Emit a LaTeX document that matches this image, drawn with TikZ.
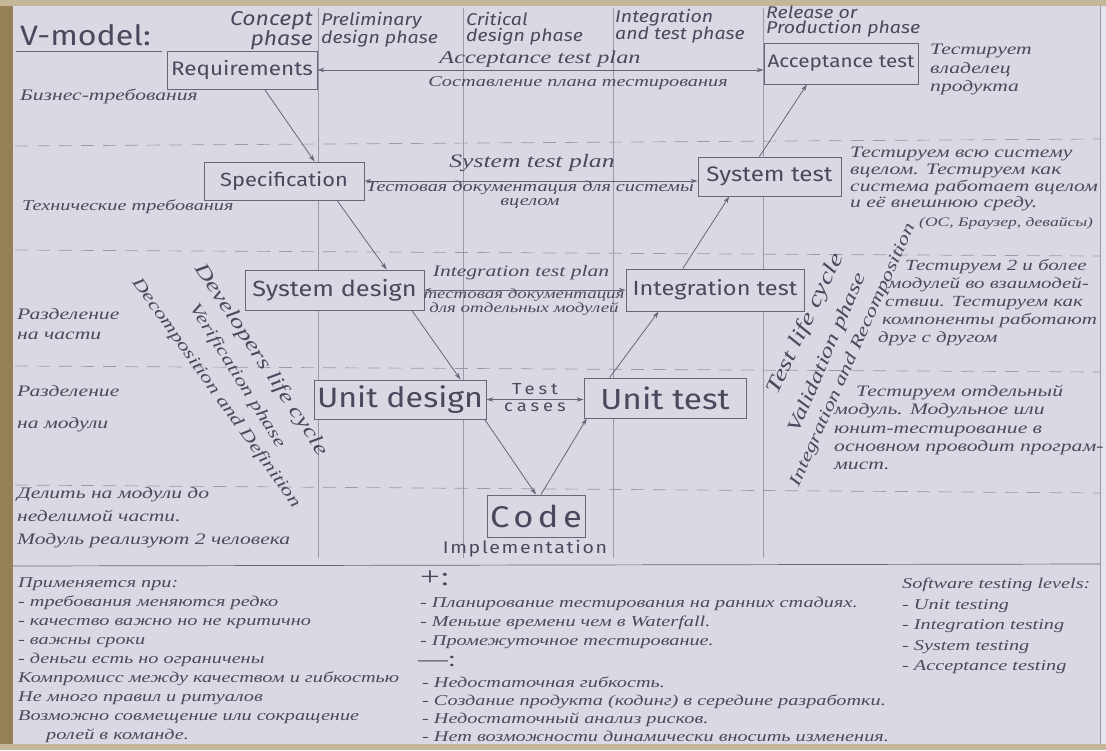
\documentclass[tikz,border=0pt]{standalone}
\usepackage{fontspec}
\setmainfont{Liberation Serif}
\newfontfamily\crs[FakeStretch=1.35]{Liberation Serif}
\newfontfamily\prn[FakeStretch=1.15]{Fira Sans}
\usetikzlibrary{arrows.meta,calc}
\definecolor{paper}{RGB}{220,216,227}
\definecolor{wood}{RGB}{150,128,88}
\definecolor{tanedge}{RGB}{196,182,150}
\definecolor{ink}{RGB}{74,72,92}
\definecolor{boxline}{RGB}{104,102,118}
\definecolor{faint}{RGB}{155,152,167}
\definecolor{margin}{RGB}{230,227,236}
\begin{document}
\begin{tikzpicture}[x=1pt,y=-1pt,
  >={Stealth[length=7pt,width=4.5pt]},
  box/.style={draw=boxline,line width=0.9pt,fill=paper,inner sep=0pt,text=ink},
  bx/.style={box,font=\prn\fontsize{#1}{#1}\selectfont},
  hdr/.style={font=\prn\itshape\fontsize{17}{16}\selectfont,text=ink,inner sep=0pt},
  note/.style 2 args={font=\crs\itshape\fontsize{#1}{#2}\selectfont,text=ink,inner sep=0pt},
  flow/.style={draw=boxline,line width=0.8pt,->},
  twoway/.style={draw=boxline,line width=0.8pt,<->},
  phaseline/.style={draw=faint,line width=0.7pt},
  gridline/.style={draw=faint,line width=0.7pt,dash pattern=on 13pt off 9pt},
  rule/.style={draw=boxline,line width=0.7pt}]

% paper and its surroundings
\fill[paper] (0,0) rectangle (1106,750);
\fill[margin] (1100,0) rectangle (1106,750);
\fill[wood] (0,0) rectangle (13,750);
\fill[tanedge] (0,0) rectangle (1106,6);
\fill[tanedge] (0,744) rectangle (1106,750);
\draw[phaseline] (1100,6) -- (1100,744);
\useasboundingbox (0,0) rectangle (1106,750);

% phase columns and level rows
\foreach \x in {318,463,613,763} \draw[phaseline] (\x,8) -- (\x,558);
\draw[gridline] (15,146) -- (1100,139);
\draw[gridline] (15,250) -- (1100,256);
\draw[gridline] (15,366) -- (1100,372);
\draw[gridline] (15,485) -- (1100,493);
\draw[rule] (13,566) -- (1100,564);

% title
\node[font=\prn\fontsize{28}{28}\selectfont,text=ink,anchor=west,inner sep=0pt] (title) at (20,35) {V-model:};
\coordinate (ulA) at (16,51);
\coordinate (ulB) at (162,51);
\draw[rule] (ulA) -- (ulB);

% phase headers
\node[hdr,font=\prn\itshape\fontsize{20}{16}\selectfont,anchor=north east,align=right] (hconcept) at (313,11) {Concept\\phase};
\node[hdr,anchor=north west,align=left] (hprelim) at (321,12) {Preliminary\\design phase};
\node[hdr,anchor=north west,align=left] (hcrit) at (466,12) {Critical\\design phase};
\node[hdr,anchor=north west,align=left] (hinteg) at (615,9) {Integration\\and test phase};
\node[hdr,font=\prn\itshape\fontsize{17}{15}\selectfont,anchor=north west,align=left] (hrel) at (766,6) {Release or\\Production phase};

% the V
\node[bx=19.5,minimum width=150pt,minimum height=38pt] (req) at (242,70) {Requirements};
\node[bx=18,minimum width=154pt,minimum height=41pt] (acc) at (841,63.5) {Acceptance test};
\node[bx=19,minimum width=160pt,minimum height=38pt] (spec) at (284,181) {Specification};
\node[bx=21,minimum width=143pt,minimum height=39pt] (systest) at (769.5,176.5) {System test};
\node[bx=22,minimum width=179pt,minimum height=40pt] (sysdes) at (334.5,290) {System design};
\node[bx=20.5,minimum width=178pt,minimum height=42pt] (inttest) at (715,290) {Integration test};
\node[bx=28,minimum width=172pt,minimum height=39pt] (unitdes) at (400,399.5) {Unit design};
\node[bx=29,minimum width=162pt,minimum height=40pt] (unittest) at (665,398) {Unit test};
\node[box,font=\prn\fontsize{30}{30}\selectfont\addfontfeature{LetterSpace=15},minimum width=98pt,minimum height=42pt] (code) at (536,516) {Code};

\draw[flow] ($(req.south west)!0.65!(req.south east)$) -- ($(spec.north west)!0.69!(spec.north east)$);
\draw[flow] ($(spec.south west)!0.83!(spec.south east)$) -- ($(sysdes.north west)!0.79!(sysdes.north east)$);
\draw[flow] ($(sysdes.south west)!0.93!(sysdes.south east)$) -- ($(unitdes.north west)!0.85!(unitdes.north east)$);
\draw[flow] ($(unitdes.south west)!0.99!(unitdes.south east)$) -- ($(code.north west)!0.5!(code.north east)$);
\draw[flow] ($(code.north west)!0.55!(code.north east)$) -- ($(unittest.south west)!0.02!(unittest.south east)$);
\draw[flow] ($(unittest.north west)!0.16!(unittest.north east)$) -- ($(inttest.south west)!0.185!(inttest.south east)$);
\draw[flow] ($(inttest.north west)!0.32!(inttest.north east)$) -- ($(systest.south west)!0.22!(systest.south east)$);
\draw[flow] ($(systest.north west)!0.43!(systest.north east)$) -- ($(acc.south west)!0.28!(acc.south east)$);

\draw[twoway] (req.east) -- (req.east -| acc.west);
\draw[twoway] (spec.east) -- (spec.east -| systest.west);
\draw[twoway] (sysdes.east) -- (sysdes.east -| inttest.west);
\draw[twoway] (unitdes.east) -- (unitdes.east -| unittest.west);

% labels on the two-way links
\node[note={18}{18}] (atp) at (540,59) {Acceptance test plan};
\node[note={15}{15}] (atpru) at (578,83) {Составление плана тестирования};
\node[note={19}{19}] (stp) at (532,163) {System test plan};
\node[note={15}{14},align=center] (stpru) at (530,195) {Тестовая документация для системы\\вцелом};
\node[note={16}{16}] (itp) at (521,273) {Integration test plan};
\node[note={14}{14},align=center] (itpru) at (524,302) {тестовая документация\\для отдельных модулей};
\node[font=\prn\fontsize{16}{17}\selectfont\addfontfeature{LetterSpace=25},text=ink,inner sep=0pt,align=center] (tc) at (535,398) {Test\\cases};
\node[font=\prn\fontsize{17}{17}\selectfont\addfontfeature{LetterSpace=10},text=ink,inner sep=0pt] (impl) at (525,549) {Implementation};

% notes on the left
\node[note={16}{16},anchor=west] (n1) at (20,96) {Бизнес-требования};
\node[note={15}{15},anchor=west] (n2) at (22,207) {Технические требования};
\node[note={16}{20},anchor=north west,align=left] (n3) at (17,308) {Разделение\\на части};
\node[note={16}{32},anchor=north west,align=left] (n4) at (17,385) {Разделение\\на модули};
\node[note={16}{23},anchor=north west,align=left] (n5) at (17,487) {Делить на модули до\\неделимой части.\\Модуль реализуют 2 человека};

% notes on the right
\node[note={16}{18.5},anchor=north west,align=left] (r1) at (930,44) {Тестирует\\владелец\\продукта};
\node[note={16}{16.7},anchor=north west,align=left] (r2) at (850,147) {Тестируем всю систему\\вцелом. Тестируем как\\система работает вцелом\\и её внешнюю среду.};
\node[note={13}{13},anchor=west] (r2b) at (919,223) {(ОС, Браузер, девайсы)};
\node[note={15.5}{18},anchor=north west,align=left] (r3) at (878,259) {\hspace*{27pt}Тестируем 2 и более\\\hspace*{10pt}модулей во взаимодей-\\\hspace*{7pt}ствии. Тестируем как\\\hspace*{4pt}компоненты работают\\друг с другом};
\node[note={16}{18.3},anchor=north west,align=left] (r4) at (834,385) {\hspace*{22pt}Тестируем отдельный\\модуль. Модульное или\\юнит-тестирование в\\основном проводит програм-\\мист.};

% life-cycle captions along the two arms
\node[note={20}{20},rotate=-56.5] (dl1) at (261,360) {Developers life cycle};
\node[note={17}{17},rotate=-58] (dl2) at (237,376) {Verification phase};
\node[note={17}{17},rotate=-54.5] (dl3) at (216,393) {Decomposition and Definition};
\node[note={21}{21},rotate=64.5] (vl1) at (806,324) {Test life cycle};
\node[note={19}{19},rotate=67] (vl2) at (828,353) {Validation phase};
\node[note={17}{17},rotate=66] (vl3) at (853,355) {Integration and Recomposition};

% summary below the rule
\node[note={15}{19},anchor=north west,align=left] (b1) at (18,577) {Применяется при:\\- требования меняются редко\\- качество важно но не критично\\- важны сроки\\- деньги есть но ограничены\\Компромисс между качеством и гибкостью\\Не много правил и ритуалов\\Возможно совмещение или сокращение\\\hspace*{28pt}ролей в команде.};
\node[font=\crs\fontsize{26}{26}\selectfont,text=ink,inner sep=0pt,anchor=west] (plus) at (420,578) {+:};
\node[note={15}{19},anchor=north west,align=left] (b2) at (420,597) {- Планирование тестирования на ранних стадиях.\\- Меньше времени чем в Waterfall.\\- Промежуточное тестирование.};
\node[font=\crs\fontsize{22}{22}\selectfont,text=ink,inner sep=0pt,anchor=west] (minus) at (418,661) {—:};
\node[note={15}{18},anchor=north west,align=left] (b3) at (422,677) {- Недостаточная гибкость.\\- Создание продукта (кодинг) в середине разработки.\\- Недостаточный анализ рисков.\\- Нет возможности динамически вносить изменения.};
\node[note={15}{20.5},anchor=north west,align=left] (b4) at (902,578) {Software testing levels:\\- Unit testing\\- Integration testing\\- System testing\\- Acceptance testing};
\end{tikzpicture}
\end{document}
